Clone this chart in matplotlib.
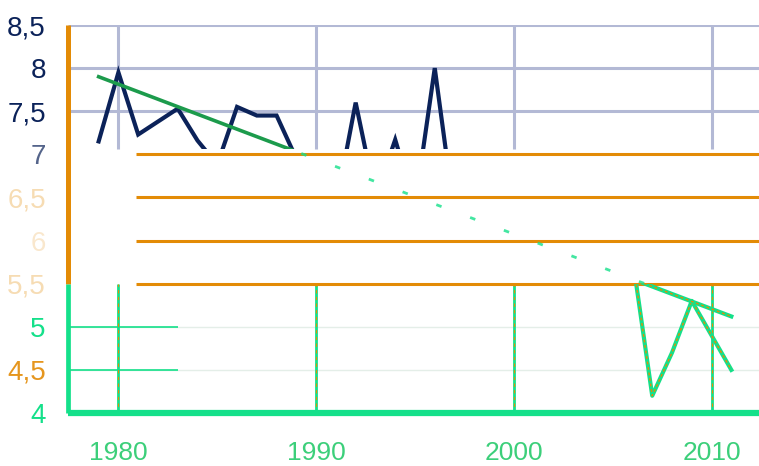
import matplotlib
matplotlib.use("Agg")
import matplotlib.pyplot as plt
import numpy as np
from matplotlib.patches import Rectangle

plt.rcParams['font.family'] = ['Liberation Sans', 'DejaVu Sans']

years = np.arange(1979, 2012)
values = [7.15, 7.95, 7.23, 7.38, 7.53, 7.16, 6.88, 7.55, 7.45, 7.45,
          6.95, 6.7, 6.4, 7.6, 6.5, 7.17, 6.4, 8.0, 6.3, 6.0,
          6.3, 5.9, 6.2, 6.1, 5.8, 6.0, 5.7, 5.8, 4.2, 4.7,
          5.3, 4.9, 4.5]
trend_years = [1979, 2011]
trend_vals = [7.9, 5.12]

x_ticks = [1980, 1990, 2000, 2010]
y_ticks = [4, 4.5, 5, 5.5, 6, 6.5, 7, 7.5, 8, 8.5]
y_labels = ['4', '4,5', '5', '5,5', '6', '6,5', '7', '7,5', '8', '8,5']

navy = '#0b2259'
lav = '#b3b9d5'
orange = '#e38b06'
green = '#14e08a'
dgreen = '#1c9b4c'

xmin, xmax = 1977.45, 2012.4
ymin, ymax = 4, 8.5
top_lo, mid_lo = 7.06, 5.5

fig = plt.figure(figsize=(7.59, 4.66), dpi=100)
ax = fig.add_axes([68 / 759, 53 / 466, 1 - 68 / 759, 388 / 466])
ax.set_xlim(xmin, xmax)
ax.set_ylim(ymin, ymax)
for s in ax.spines.values():
    s.set_visible(False)


def band(lo, hi):
    return Rectangle((xmin - 5, lo), xmax - xmin + 10, hi - lo, transform=ax.transData)


# top band: normal chart
ax.hlines([7.5, 8, 8.5], xmin, xmax, color=lav, lw=2.2, zorder=1)
ax.vlines(x_ticks, top_lo, ymax, color=lav, lw=2.2, zorder=1)
l1, = ax.plot(years, values, color=navy, lw=3, zorder=3, solid_joinstyle='miter')
l2, = ax.plot(trend_years, trend_vals, color=dgreen, lw=2.6, zorder=4)
l1.set_clip_path(band(top_lo, ymax + 1))
l2.set_clip_path(band(top_lo, ymax + 1))

# middle band: broken, only orange gridlines and fragments
ax.hlines([7, 6.5, 6, 5.5], 1980.9, xmax, color=orange, lw=2.2, zorder=2)
l3, = ax.plot(trend_years, trend_vals, color=green, lw=2, ls=(0, (2, 11)), alpha=0.8, zorder=4)
l3.set_clip_path(band(mid_lo, top_lo))

# bottom band: green rendering
ax.hlines([5, 4.5], xmin, xmax, color='#e4eee8', lw=1, zorder=1)
ax.hlines([5, 4.5], xmin, 1983, color=green, lw=1.2, zorder=1)
ax.vlines(x_ticks, ymin, mid_lo, color=green, lw=2, zorder=1)
ax.vlines(x_ticks, ymin, mid_lo, color=orange, lw=0.8, ls=(0, (3, 3)), zorder=1)
l4, = ax.plot(years, values, color=green, lw=3, zorder=3)
l5, = ax.plot(years, values, color=orange, lw=1, ls=(0, (2, 2)), zorder=3)
l6, = ax.plot(trend_years, trend_vals, color=green, lw=3, zorder=3)
l7, = ax.plot(trend_years, trend_vals, color=orange, lw=1, ls=(0, (2, 2)), zorder=3)
for ln in (l4, l5, l6, l7):
    ln.set_clip_path(band(ymin - 1, mid_lo))

# axes lines
ax.vlines(xmin, mid_lo, ymax, color=orange, lw=3.6, zorder=5, clip_on=False)
ax.vlines(xmin, ymin, mid_lo, color=green, lw=3.4, zorder=5, clip_on=False)
ax.hlines(ymin, xmin, xmax, color=green, lw=4.5, zorder=5, clip_on=False)

ax.set_xticks(x_ticks)
ax.set_xticklabels([str(x) for x in x_ticks])
ax.set_yticks(y_ticks)
ax.set_yticklabels(y_labels)
ax.tick_params(axis='both', length=0)
ax.tick_params(axis='y', pad=16, labelsize=20)
ax.tick_params(axis='x', pad=20, labelsize=19, labelcolor='#3ccf7a')

ycols = {4: (green, 1), 4.5: (orange, 0.9), 5: (green, 1), 5.5: (orange, 0.3),
         6: (orange, 0.2), 6.5: (orange, 0.3), 7: (navy, 0.7),
         7.5: (navy, 1), 8: (navy, 1), 8.5: (navy, 1)}
for v, lab in zip(y_ticks, ax.get_yticklabels()):
    c, a = ycols[v]
    lab.set_color(c)
    lab.set_alpha(a)

fig.savefig('out.png', dpi=100)
